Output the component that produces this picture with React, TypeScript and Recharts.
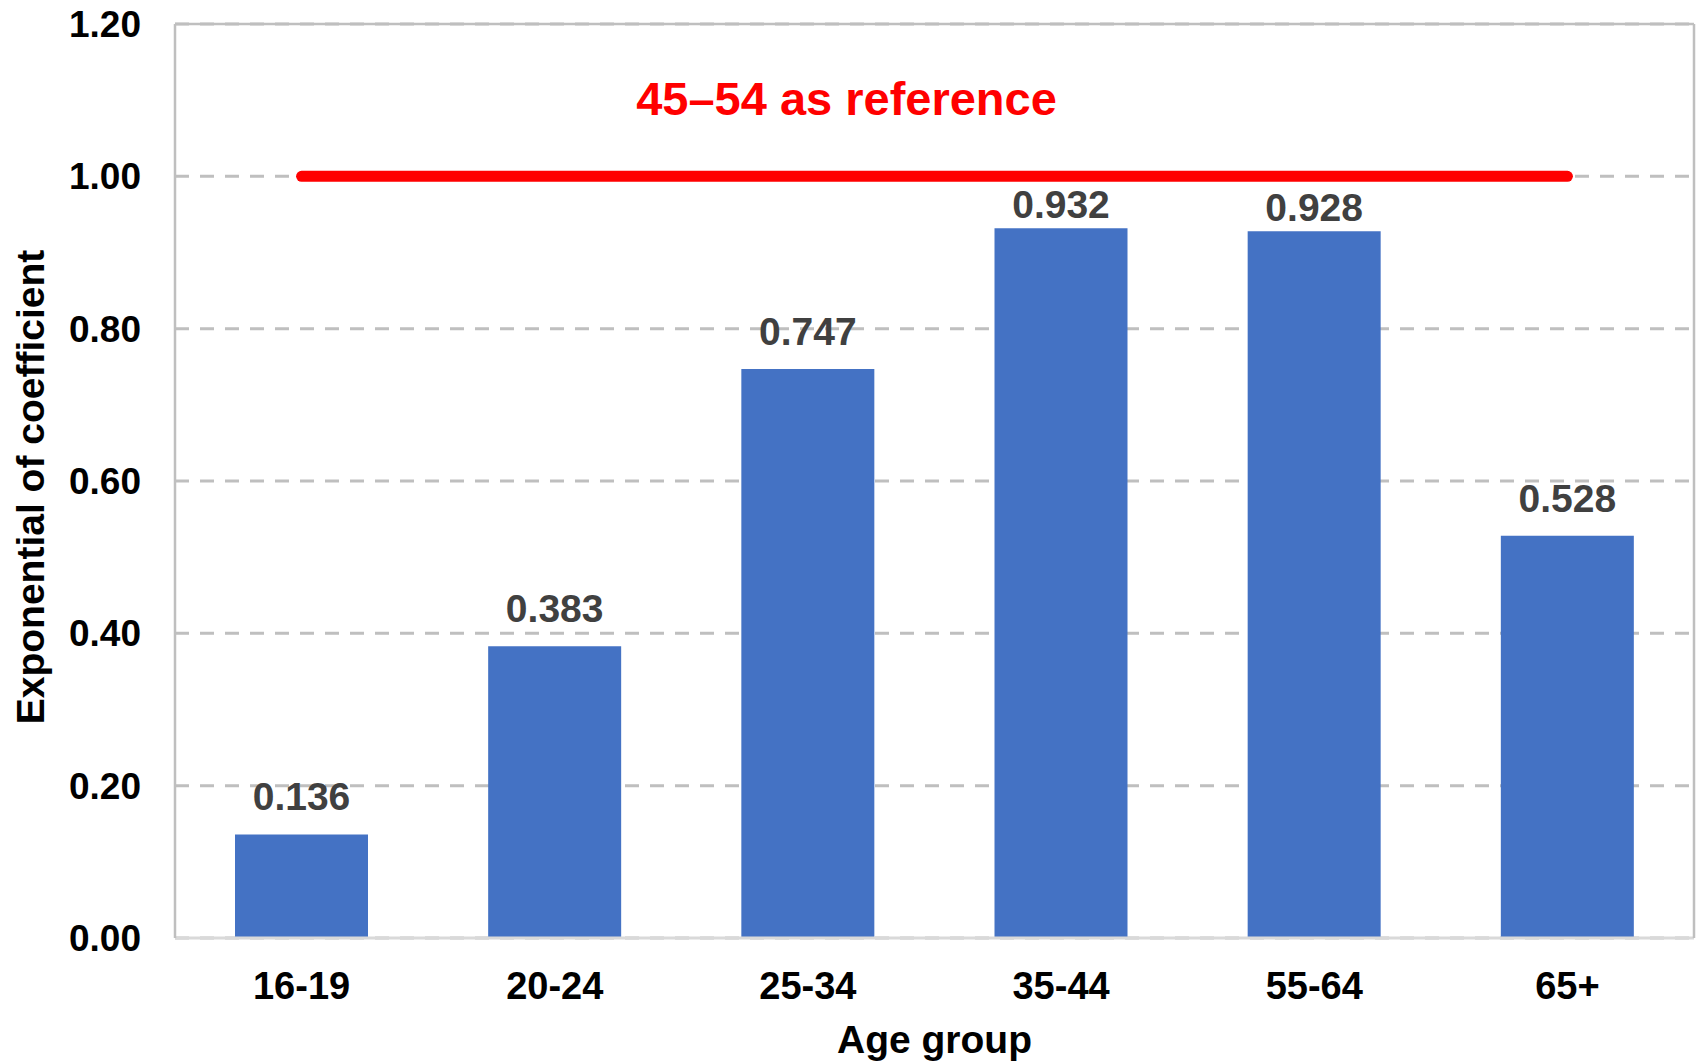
import React from 'react';
import { BarChart, Bar, XAxis, YAxis, CartesianGrid, ReferenceLine, LabelList, Label } from 'recharts';

const categories = ['16-19', '20-24', '25-34', '35-44', '55-64', '65+'];
const values = [0.136, 0.383, 0.747, 0.932, 0.928, 0.528];
const yTicks = [0, 0.2, 0.4, 0.6, 0.8, 1.0, 1.2];
const referenceValue = 1.0;
const referenceTitle = '45–54 as reference';
const xTitle = 'Age group';
const yTitle = 'Exponential of coefficient';

const data = categories.map((c, i) => ({ name: c, value: values[i] }));

const FONT = '"Liberation Sans", Arial, sans-serif';
const LABEL_SIZE = 39;

const BarValueLabel = (props: any) => {
  const { x, y, width, height, value } = props;
  const v = Number(value);
  const cx = Number(x) + Number(width) / 2;
  const top = Number(y);
  const h = Number(height);
  // pixel y of the reference line, through the bar's own scale
  const refY = v > 0 ? top + h - (referenceValue * h) / v : top;
  let baseline = top - 24;
  if (baseline - LABEL_SIZE * 0.72 < refY + 8) {
    baseline = top - 10;
  }
  return (
    <text
      x={cx}
      y={baseline}
      textAnchor="middle"
      style={{ fill: '#404040', fontSize: LABEL_SIZE, fontWeight: 700, fontFamily: FONT }}
    >
      {v.toFixed(3)}
    </text>
  );
};

export default function App() {
  return (
    <div style={{ position: 'absolute', left: 0, top: 0, width: 1697, height: 1062, background: '#fff' }}>
      <BarChart
        width={1697}
        height={1062}
        data={data}
        margin={{ top: 24, right: 0, left: 0, bottom: 0 }}
        barSize={133}
        style={{ fontFamily: FONT }}
      >
        <CartesianGrid
          yAxisId="left"
          vertical={false}
          stroke="#bfbfbf"
          strokeWidth={3}
          strokeDasharray="14 11"
        />
        <XAxis
          dataKey="name"
          height={124}
          tickLine={false}
          tickSize={0}
          tickMargin={34}
          axisLine={{ stroke: '#d9d9d9', strokeWidth: 3 }}
          tick={{ fill: '#000', fontSize: 38, fontWeight: 700, fontFamily: FONT }}
        >
          <Label
            value={xTitle}
            position="insideBottom"
            offset={9}
            style={{ fill: '#000', fontSize: 39, fontWeight: 700, fontFamily: FONT }}
          />
        </XAxis>
        <YAxis
          yAxisId="left"
          width={175}
          domain={[0, 1.2]}
          ticks={yTicks}
          tickFormatter={(v: number) => v.toFixed(2)}
          tickLine={false}
          tickSize={0}
          tickMargin={34}
          axisLine={{ stroke: '#bfbfbf', strokeWidth: 2.5 }}
          tick={{ fill: '#000', fontSize: 37, fontWeight: 700, fontFamily: FONT }}
        >
          <Label
            content={(props: any) => {
              const vb = props.viewBox || {};
              const cx = 30;
              const cy = (vb.y ?? 24) + (vb.height ?? 914) / 2 + 6;
              return (
                <text
                  x={cx}
                  y={cy}
                  transform={`rotate(-90 ${cx} ${cy})`}
                  textAnchor="middle"
                  dominantBaseline="central"
                  style={{ fill: '#000', fontSize: 39, fontWeight: 700, fontFamily: FONT }}
                >
                  {yTitle}
                </text>
              );
            }}
          />
        </YAxis>
        <YAxis
          yAxisId="right"
          orientation="right"
          width={3}
          domain={[0, 1.2]}
          tick={false}
          tickLine={false}
          axisLine={{ stroke: '#bfbfbf', strokeWidth: 2.5 }}
        />
        <ReferenceLine yAxisId="left" y={1.2} stroke="#bfbfbf" strokeWidth={2.5} />
        <Bar yAxisId="left" dataKey="value" fill="#4472C4" isAnimationActive={false}>
          <LabelList dataKey="value" content={BarValueLabel} />
        </Bar>
        <ReferenceLine
          yAxisId="left"
          segment={[
            { x: categories[0], y: referenceValue },
            { x: categories[categories.length - 1], y: referenceValue },
          ]}
          stroke="#ff0000"
          strokeWidth={11}
          strokeLinecap="round"
          label={(props: any) => {
            const vb = props.viewBox || {};
            const x = (vb.x ?? 300) + (vb.width ?? 1268) / 2 - 88;
            const y = (vb.y ?? 177) - 61;
            return (
              <text
                x={x}
                y={y}
                textAnchor="middle"
                style={{ fill: '#ff0000', fontSize: 47, fontWeight: 700, fontFamily: FONT }}
              >
                {referenceTitle}
              </text>
            );
          }}
        />
      </BarChart>
    </div>
  );
}
